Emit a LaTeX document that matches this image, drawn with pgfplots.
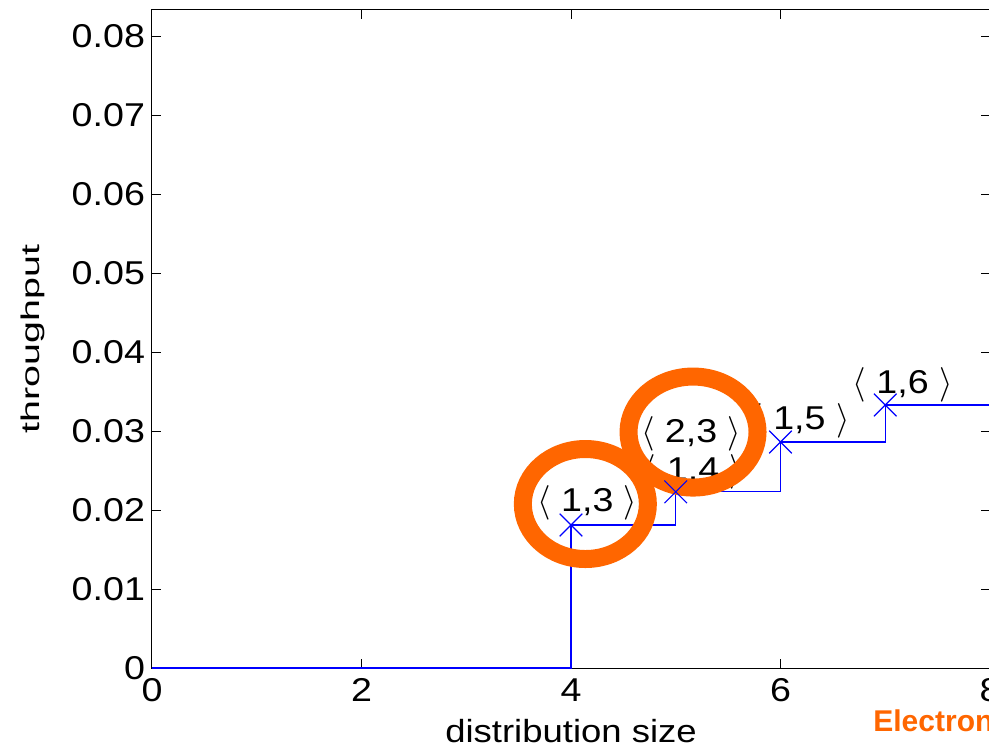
\documentclass[border=0pt]{standalone}
\usepackage{pgfplots}
\pgfplotsset{compat=1.18}
\usepackage{fontspec}
\setmainfont{Liberation Sans}[FakeStretch=1.14]
\newfontfamily\plainsans{Liberation Sans}
\definecolor{ringorange}{RGB}{255,102,0}
\definecolor{lineblue}{RGB}{0,0,255}
\begin{document}
\begin{tikzpicture}
\begin{axis}[
  name=ax,
  at={(0,0)}, anchor=south west,
  width=419pt, height=329pt, scale only axis,
  xmin=0, xmax=8, ymin=0, ymax=0.0833,
  xtick={0,2,4,6,8},
  ytick={0,0.01,0.02,0.03,0.04,0.05,0.06,0.07,0.08},
  yticklabels={0,0.01,0.02,0.03,0.04,0.05,0.06,0.07,0.08},
  /pgf/number format/assume math mode=true,
  tick align=inside,
  major tick length=4.5pt,
  axis line style={black, line width=0.5pt},
  every tick/.style={black, line width=0.5pt},
  tick label style={font=\fontsize{16.5}{19}\selectfont},
  xticklabel style={yshift=-1.8pt},
  xlabel={distribution size},
  ylabel={\scalebox{1.08}[0.8]{throughput}},
  label style={font=\fontsize{16}{19}\selectfont},
  xlabel style={at={(axis description cs:0.5,0)}, anchor=base, yshift=-37pt},
  ylabel style={at={(axis description cs:-0.142,0.5)}, anchor=center},
  clip=false,
]
\addplot[lineblue, line width=0.6pt, const plot mark left, mark=none]
  coordinates {(0,0) (4,0.0181) (5,0.0223) (6,0.0286) (7,0.0333) (8,0.0333)};
\addplot[lineblue, line width=0.6pt, only marks, mark=x, mark size=8pt,
  mark options={line width=0.6pt}]
  coordinates {(4,0.0181) (5,0.0223) (6,0.0286) (7,0.0333)};
\begin{scope}[every node/.style={anchor=base, inner sep=0pt, font=\fontsize{16.5}{19}\selectfont}]
\node at (axis cs:4.156,0.01975) {$\langle$ 1,3 $\rangle$};
\node at (axis cs:5.165,0.02380) {$\langle$ 1,4 $\rangle$};
\node at (axis cs:5.146,0.02861) {$\langle$ 2,3 $\rangle$};
\node at (axis cs:6.181,0.03013) {$\langle$ 1,5 $\rangle$};
\node at (axis cs:7.165,0.03481) {$\langle$ 1,6 $\rangle$};
\end{scope}
\draw[ringorange, line width=9pt] (axis cs:4.137,0.02076) ellipse [x radius=31.25pt, y radius=27.5pt];
\draw[ringorange, line width=9pt] (axis cs:5.165,0.02987) ellipse [x radius=32.25pt, y radius=27.75pt];
\node[anchor=base west, inner sep=0pt, text=ringorange, font=\plainsans\bfseries\fontsize{15}{18}\selectfont]
  at (axis cs:6.883,-0.0081) {Electronics};
\end{axis}
\pgfresetboundingbox
\path[use as bounding box] ([shift={(-76pt,-43.5pt)}]ax.south west) rectangle ([shift={(-0.5pt,5pt)}]ax.north east);
\end{tikzpicture}
\end{document}
